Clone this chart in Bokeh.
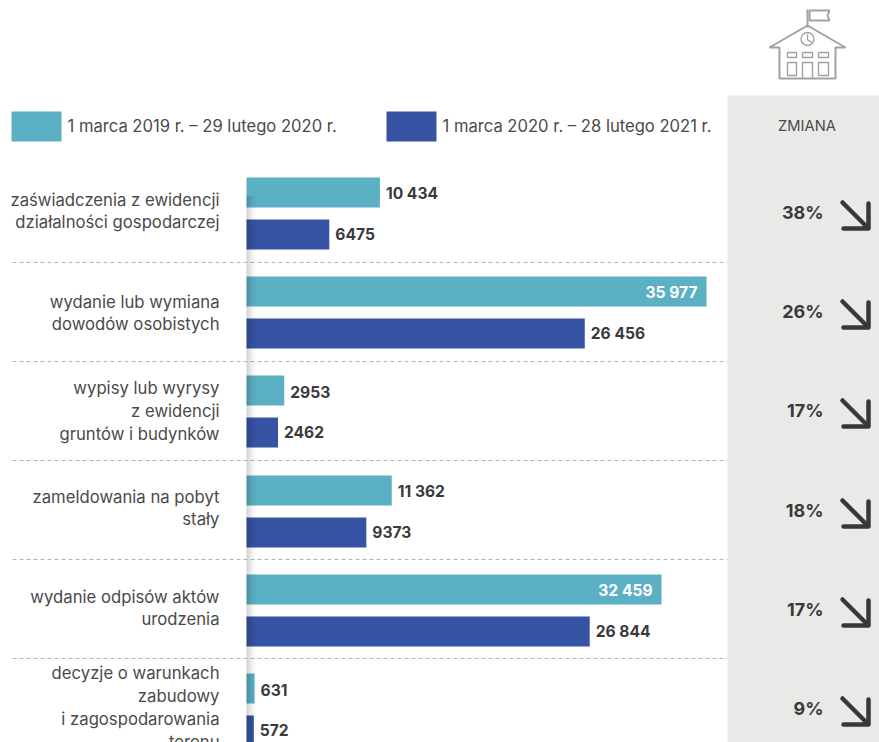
from bokeh.plotting import figure
from bokeh.models import Range1d
from bokeh.core.properties import value
from bokeh.embed import file_html
from bokeh.resources import INLINE

# ---- data ----
categories = [
    ["zaświadczenia z ewidencji", "działalności gospodarczej"],
    ["wydanie lub wymiana", "dowodów osobistych"],
    ["wypisy lub wyrysy", "z ewidencji", "gruntów i budynków"],
    ["zameldowania na pobyt", "stały"],
    ["wydanie odpisów aktów", "urodzenia"],
    ["decyzje o warunkach", "zabudowy", "i zagospodarowania", "terenu"],
]
series_2019 = [10434, 35977, 2953, 11362, 32459, 631]
series_2020 = [6475, 26456, 2462, 9373, 26844, 572]
labels_2019 = ["10 434", "35 977", "2953", "11 362", "32 459", "631"]
labels_2020 = ["6475", "26 456", "2462", "9373", "26 844", "572"]
changes = ["38%", "26%", "17%", "18%", "17%", "9%"]
legend_2019 = "1 marca 2019 r. – 29 lutego 2020 r."
legend_2020 = "1 marca 2020 r. – 28 lutego 2021 r."
change_title = "ZMIANA"

# ---- layout / style (page pixels) ----
L, T = 0, 1
W, H = 879, 742
PX_PER_UNIT = 460 / 35977
X0 = 246
TEAL, BLUE = "#5bb0c4", "#3653a4"
TXT, DARK = "#4a4a4a", "#3a3a3c"
PANEL, ICON = "#e9e9e8", "#9da3a3"
FONT = value("Inter")
tops = [178, 277, 376, 476, 575, 674]
label_centers = [211.5, 313.5, 411.5, 508.5, 608.5, 708]
change_y = [213, 312, 411, 511, 610, 709]
separators = [263, 362, 461, 560, 659]

p = figure(width=W, height=H, output_backend="svg", toolbar_location=None,
           x_range=Range1d((L - X0) / PX_PER_UNIT, (L + W - X0) / PX_PER_UNIT),
           y_range=Range1d(T + H, T), min_border=0,
           x_axis_location=None, y_axis_location=None, outline_line_color=None)
p.grid.visible = False
p.extra_x_ranges = {"px": Range1d(L, L + W)}
px = dict(x_range_name="px")

# grey panel
p.quad(left=[727], right=[880], top=[96], bottom=[744], fill_color=PANEL, line_color=None, **px)

# bars
def bars(vals, tops_, color):
    p.quad(left=[0] * len(vals), right=vals, top=tops_, bottom=[t + 30 for t in tops_],
           fill_color=color, line_color=None)
bars(series_2019, tops, TEAL)
bars(series_2020, [t + 42 for t in tops], BLUE)

# shadow along the baseline
steps = 12
for i in range(steps):
    a = 0.18 * (1 - i / steps) ** 2
    p.quad(left=[X0 + i], right=[X0 + i + 1], top=[196], bottom=[744],
           fill_color="#000000", fill_alpha=a, line_color=None, **px)

# separators
p.multi_line(xs=[[12, 727]] * len(separators), ys=[[y, y] for y in separators],
             line_color="#b4b4b4", line_width=1, line_dash="4 3", **px)

# value labels
def val_labels(vals, labs, ys):
    for v, s, y in zip(vals, labs, ys):
        inside = s in ("35 977", "32 459")
        p.text([v], [y], text=[s], text_font=FONT, text_font_style="bold", text_font_size="15.6px",
               text_color="#ffffff" if inside else DARK, text_baseline="middle",
               text_align="right" if inside else "left", x_offset=-9 if inside else 6)
val_labels(series_2019, labels_2019, [t + 16 for t in tops])
val_labels(series_2020, labels_2020, [t + 56.5 for t in tops])

# category labels
xs, ys, ts = [], [], []
for lines, c in zip(categories, label_centers):
    for i, line in enumerate(lines):
        xs.append(219); ys.append(c + (i - (len(lines) - 1) / 2) * 22.8); ts.append(line)
p.text(xs, ys, text=ts, text_font=FONT, text_font_size="16.7px", text_color=TXT,
       text_align="right", text_baseline="middle", **px)

# legend
p.quad(left=[11, 386], right=[61, 436], top=[112, 112], bottom=[142, 142],
       fill_color=[TEAL, BLUE], line_color=None, **px)
p.text([67, 442], [126, 126], text=[legend_2019, legend_2020], text_font=FONT, text_font_size="16.6px",
       text_color=TXT, text_baseline="middle", **px)
p.text([806.5], [126.5], text=[change_title], text_font=FONT, text_font_size="14.7px", text_color=TXT,
       text_align="center", text_baseline="middle", **px)

# change column
p.text([823] * len(changes), change_y, text=changes, text_font=FONT, text_font_style="bold",
       text_font_size="18px", text_color=DARK, text_align="right", text_baseline="middle", **px)
for y in change_y:
    p.multi_line(xs=[[842, 867], [868, 868, 843]], ys=[[y - 10, y + 15], [y - 9, y + 16, y + 16]],
                 line_color="#36393b", line_width=4.5, line_cap="round", line_join="round", **px)

# school icon
p.multi_line(
    xs=[[807, 807], [809, 829, 827, 829, 809, 809], [769, 807, 845], [769, 779, 779, 835, 835, 845]],
    ys=[[10, 28], [11, 11, 16, 21, 21, 11], [48, 26, 48], [48, 48, 79, 79, 48, 48]],
    line_color=ICON, line_width=2, **px)
p.multi_line(
    xs=[[787, 796, 796, 787, 787], [802, 812, 812, 802, 802], [818, 828, 828, 818, 818],
        [787, 796, 796, 787, 787], [802, 802, 812, 812], [818, 828, 828, 818, 818], [807, 807, 811]],
    ys=[[53, 53, 58, 58, 53], [53, 53, 58, 58, 53], [53, 53, 58, 58, 53],
        [63, 63, 76, 76, 63], [79, 63, 63, 79], [63, 63, 76, 76, 63], [35, 40, 43]],
    line_color=ICON, line_width=1.4, **px)
p.scatter([807], [39.5], marker="circle", size=13, fill_color=None, line_color=ICON, line_width=1.4, **px)

open("out.html", "w").write(file_html(p, INLINE))
